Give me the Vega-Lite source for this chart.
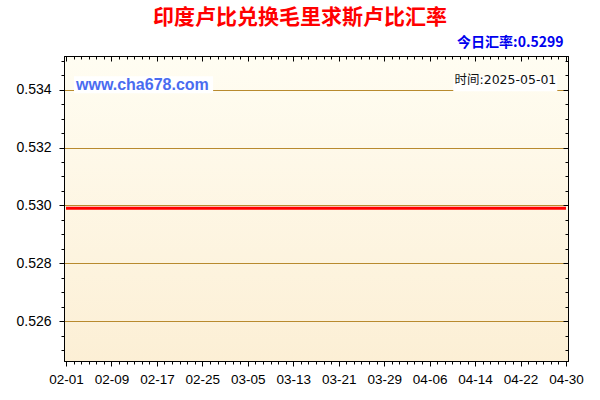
{
  "$schema": "https://vega.github.io/schema/vega-lite/v6.json",
  "width": 504,
  "height": 305,
  "autosize": {"type": "none"},
  "padding": {"left": 64, "top": 56, "right": 32, "bottom": 39},
  "background": "#ffffff",
  "title": {
    "text": "印度卢比兑换毛里求斯卢比汇率",
    "anchor": "middle",
    "frame": "group",
    "dx": -16,
    "offset": 8,
    "font": "Noto Sans CJK SC",
    "fontSize": 21,
    "fontWeight": "bold",
    "color": "#ff0000"
  },
  "config": {
    "view": {
      "stroke": "#000000",
      "strokeWidth": 1,
      "fill": {
        "gradient": "linear",
        "x1": 0, "y1": 0, "x2": 0, "y2": 1,
        "stops": [
          {"offset": 0, "color": "#fffdf2"},
          {"offset": 1, "color": "#fcefd5"}
        ]
      }
    },
    "axis": {
      "domainColor": "#000000",
      "tickColor": "#000000",
      "labelFont": "Liberation Sans",
      "labelFontSize": 13.5,
      "labelColor": "#000000",
      "labelOverlap": false,
      "labelFlush": false,
      "gridColor": "#b88a2e",
      "gridWidth": 1,
      "title": null
    }
  },
  "resolve": {"axis": {"x": "independent", "y": "independent"}},
  "layer": [
    {
      "data": {
        "values": [
          {"date": "2025-02-01", "rate": 0.5299}, {"date": "2025-02-02", "rate": 0.5299}, {"date": "2025-02-03", "rate": 0.5299},
          {"date": "2025-02-04", "rate": 0.5299}, {"date": "2025-02-05", "rate": 0.5299}, {"date": "2025-02-06", "rate": 0.5299},
          {"date": "2025-02-07", "rate": 0.5299}, {"date": "2025-02-08", "rate": 0.5299}, {"date": "2025-02-09", "rate": 0.5299},
          {"date": "2025-02-10", "rate": 0.5299}, {"date": "2025-02-11", "rate": 0.5299}, {"date": "2025-02-12", "rate": 0.5299},
          {"date": "2025-02-13", "rate": 0.5299}, {"date": "2025-02-14", "rate": 0.5299}, {"date": "2025-02-15", "rate": 0.5299},
          {"date": "2025-02-16", "rate": 0.5299}, {"date": "2025-02-17", "rate": 0.5299}, {"date": "2025-02-18", "rate": 0.5299},
          {"date": "2025-02-19", "rate": 0.5299}, {"date": "2025-02-20", "rate": 0.5299}, {"date": "2025-02-21", "rate": 0.5299},
          {"date": "2025-02-22", "rate": 0.5299}, {"date": "2025-02-23", "rate": 0.5299}, {"date": "2025-02-24", "rate": 0.5299},
          {"date": "2025-02-25", "rate": 0.5299}, {"date": "2025-02-26", "rate": 0.5299}, {"date": "2025-02-27", "rate": 0.5299},
          {"date": "2025-02-28", "rate": 0.5299}, {"date": "2025-03-01", "rate": 0.5299}, {"date": "2025-03-02", "rate": 0.5299},
          {"date": "2025-03-03", "rate": 0.5299}, {"date": "2025-03-04", "rate": 0.5299}, {"date": "2025-03-05", "rate": 0.5299},
          {"date": "2025-03-06", "rate": 0.5299}, {"date": "2025-03-07", "rate": 0.5299}, {"date": "2025-03-08", "rate": 0.5299},
          {"date": "2025-03-09", "rate": 0.5299}, {"date": "2025-03-10", "rate": 0.5299}, {"date": "2025-03-11", "rate": 0.5299},
          {"date": "2025-03-12", "rate": 0.5299}, {"date": "2025-03-13", "rate": 0.5299}, {"date": "2025-03-14", "rate": 0.5299},
          {"date": "2025-03-15", "rate": 0.5299}, {"date": "2025-03-16", "rate": 0.5299}, {"date": "2025-03-17", "rate": 0.5299},
          {"date": "2025-03-18", "rate": 0.5299}, {"date": "2025-03-19", "rate": 0.5299}, {"date": "2025-03-20", "rate": 0.5299},
          {"date": "2025-03-21", "rate": 0.5299}, {"date": "2025-03-22", "rate": 0.5299}, {"date": "2025-03-23", "rate": 0.5299},
          {"date": "2025-03-24", "rate": 0.5299}, {"date": "2025-03-25", "rate": 0.5299}, {"date": "2025-03-26", "rate": 0.5299},
          {"date": "2025-03-27", "rate": 0.5299}, {"date": "2025-03-28", "rate": 0.5299}, {"date": "2025-03-29", "rate": 0.5299},
          {"date": "2025-03-30", "rate": 0.5299}, {"date": "2025-03-31", "rate": 0.5299}, {"date": "2025-04-01", "rate": 0.5299},
          {"date": "2025-04-02", "rate": 0.5299}, {"date": "2025-04-03", "rate": 0.5299}, {"date": "2025-04-04", "rate": 0.5299},
          {"date": "2025-04-05", "rate": 0.5299}, {"date": "2025-04-06", "rate": 0.5299}, {"date": "2025-04-07", "rate": 0.5299},
          {"date": "2025-04-08", "rate": 0.5299}, {"date": "2025-04-09", "rate": 0.5299}, {"date": "2025-04-10", "rate": 0.5299},
          {"date": "2025-04-11", "rate": 0.5299}, {"date": "2025-04-12", "rate": 0.5299}, {"date": "2025-04-13", "rate": 0.5299},
          {"date": "2025-04-14", "rate": 0.5299}, {"date": "2025-04-15", "rate": 0.5299}, {"date": "2025-04-16", "rate": 0.5299},
          {"date": "2025-04-17", "rate": 0.5299}, {"date": "2025-04-18", "rate": 0.5299}, {"date": "2025-04-19", "rate": 0.5299},
          {"date": "2025-04-20", "rate": 0.5299}, {"date": "2025-04-21", "rate": 0.5299}, {"date": "2025-04-22", "rate": 0.5299},
          {"date": "2025-04-23", "rate": 0.5299}, {"date": "2025-04-24", "rate": 0.5299}, {"date": "2025-04-25", "rate": 0.5299},
          {"date": "2025-04-26", "rate": 0.5299}, {"date": "2025-04-27", "rate": 0.5299}, {"date": "2025-04-28", "rate": 0.5299},
          {"date": "2025-04-29", "rate": 0.5299}, {"date": "2025-04-30", "rate": 0.5299}
        ]
      },
      "mark": {"type": "line", "color": "#ff0000", "strokeWidth": 3, "clip": true},
      "encoding": {
        "x": {
          "field": "date",
          "type": "temporal",
          "scale": {"type": "utc", "domain": [1738337400000, 1746001800000], "nice": false},
          "axis": {
            "orient": "bottom",
            "grid": false,
            "values": [1738368000000, 1738483200000, 1738598400000, 1738713600000, 1738828800000, 1738944000000, 1739059200000, 1739174400000, 1739289600000, 1739404800000, 1739520000000, 1739635200000, 1739750400000, 1739865600000, 1739980800000, 1740096000000, 1740211200000, 1740326400000, 1740441600000, 1740556800000, 1740672000000, 1740787200000, 1740902400000, 1741017600000, 1741132800000, 1741248000000, 1741363200000, 1741478400000, 1741593600000, 1741708800000, 1741824000000, 1741939200000, 1742054400000, 1742169600000, 1742284800000, 1742400000000, 1742515200000, 1742630400000, 1742745600000, 1742860800000, 1742976000000, 1743091200000, 1743206400000, 1743321600000, 1743436800000, 1743552000000, 1743667200000, 1743782400000, 1743897600000, 1744012800000, 1744128000000, 1744243200000, 1744358400000, 1744473600000, 1744588800000, 1744704000000, 1744819200000, 1744934400000, 1745049600000, 1745164800000, 1745280000000, 1745395200000, 1745510400000, 1745625600000, 1745740800000, 1745856000000, 1745971200000],
            "labelExpr": "(datum.value - 1738368000000) % 691200000 == 0 ? utcFormat(datum.value, '%m-%d') : ''",
            "tickSize": {"condition": {"test": "(datum.value - 1738368000000) % 691200000 == 0", "value": 5}, "value": 3},
            "labelPadding": 6
          }
        },
        "y": {
          "field": "rate",
          "type": "quantitative",
          "scale": {"domain": [0.52463, 0.53516], "nice": false, "zero": false},
          "axis": {
            "orient": "left",
            "values": [0.525, 0.5255, 0.526, 0.5265, 0.527, 0.5275, 0.528, 0.5285, 0.529, 0.5295, 0.53, 0.5305, 0.531, 0.5315, 0.532, 0.5325, 0.533, 0.5335, 0.534, 0.5345, 0.535],
            "grid": true,
            "gridOpacity": {"condition": {"test": "abs(datum.value * 500 - round(datum.value * 500)) < 0.01", "value": 1}, "value": 0},
            "labelExpr": "abs(datum.value * 500 - round(datum.value * 500)) < 0.01 ? format(datum.value, '.3f') : ''",
            "tickSize": {"condition": {"test": "abs(datum.value * 500 - round(datum.value * 500)) < 0.01", "value": 5}, "value": 3},
            "labelFontSize": 14,
            "labelPadding": 8
          }
        }
      }
    },
    {
      "data": {"values": [{"box": "watermark"}]},
      "mark": {"type": "rect", "color": "#ffffff"},
      "encoding": {
        "x": {
          "datum": 1738489824000,
          "type": "temporal",
          "axis": {
            "orient": "top",
            "grid": false,
            "labels": false,
            "values": [1738368000000, 1738483200000, 1738598400000, 1738713600000, 1738828800000, 1738944000000, 1739059200000, 1739174400000, 1739289600000, 1739404800000, 1739520000000, 1739635200000, 1739750400000, 1739865600000, 1739980800000, 1740096000000, 1740211200000, 1740326400000, 1740441600000, 1740556800000, 1740672000000, 1740787200000, 1740902400000, 1741017600000, 1741132800000, 1741248000000, 1741363200000, 1741478400000, 1741593600000, 1741708800000, 1741824000000, 1741939200000, 1742054400000, 1742169600000, 1742284800000, 1742400000000, 1742515200000, 1742630400000, 1742745600000, 1742860800000, 1742976000000, 1743091200000, 1743206400000, 1743321600000, 1743436800000, 1743552000000, 1743667200000, 1743782400000, 1743897600000, 1744012800000, 1744128000000, 1744243200000, 1744358400000, 1744473600000, 1744588800000, 1744704000000, 1744819200000, 1744934400000, 1745049600000, 1745164800000, 1745280000000, 1745395200000, 1745510400000, 1745625600000, 1745740800000, 1745856000000, 1745971200000],
            "tickSize": {"condition": {"test": "(datum.value - 1738368000000) % 691200000 == 0", "value": -5}, "value": -3},
            "title": "今日汇率:0.5299",
            "titleAnchor": "end",
            "titleAlign": "right",
            "titleX": 499,
            "titlePadding": 6,
            "titleFont": "Noto Sans CJK SC",
            "titleFontSize": 14,
            "titleFontWeight": "bold",
            "titleColor": "#0000ee"
          }
        },
        "x2": {"datum": 1740604896000},
        "y": {
          "datum": 0.53446,
          "type": "quantitative",
          "axis": {
            "orient": "right",
            "grid": false,
            "labels": false,
            "values": [0.525, 0.5255, 0.526, 0.5265, 0.527, 0.5275, 0.528, 0.5285, 0.529, 0.5295, 0.53, 0.5305, 0.531, 0.5315, 0.532, 0.5325, 0.533, 0.5335, 0.534, 0.5345, 0.535],
            "tickSize": {"condition": {"test": "abs(datum.value * 500 - round(datum.value * 500)) < 0.01", "value": -5}, "value": -3}
          }
        },
        "y2": {"datum": 0.53387}
      }
    },
    {
      "data": {"values": [{"box": "time"}]},
      "mark": {"type": "rect", "color": "#ffffff"},
      "encoding": {
        "x": {"datum": 1744257024000, "type": "temporal", "axis": null},
        "x2": {"datum": 1745839008000},
        "y": {"datum": 0.53446, "type": "quantitative", "axis": null},
        "y2": {"datum": 0.53394}
      }
    },
    {
      "data": {"values": [{"label": "www.cha678.com"}]},
      "mark": {
        "type": "text",
        "align": "left",
        "baseline": "middle",
        "font": "Liberation Sans",
        "fontSize": 16,
        "fontWeight": "bold",
        "color": "#4a6cf0"
      },
      "encoding": {
        "text": {"field": "label", "type": "nominal"},
        "x": {"datum": 1738520064000, "type": "temporal", "axis": null},
        "y": {"datum": 0.53417, "type": "quantitative", "axis": null}
      }
    },
    {
      "data": {"values": [{"label": "时间:2025-05-01"}]},
      "mark": {
        "type": "text",
        "align": "right",
        "baseline": "middle",
        "font": "DejaVu Sans, Noto Sans CJK SC",
        "fontSize": 12.5,
        "color": "#111111"
      },
      "encoding": {
        "text": {"field": "label", "type": "nominal"},
        "x": {"datum": 1745824320000, "type": "temporal", "axis": null},
        "y": {"datum": 0.53432, "type": "quantitative", "axis": null}
      }
    }
  ]
}
